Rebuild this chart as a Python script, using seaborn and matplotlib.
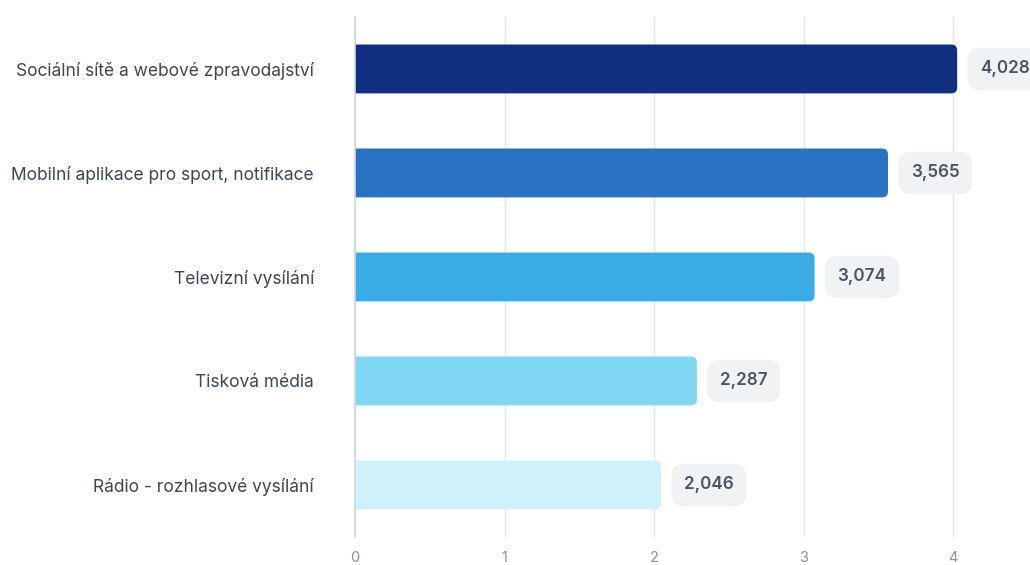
import matplotlib
matplotlib.use("Agg")
import matplotlib.pyplot as plt
from matplotlib.patches import FancyBboxPatch
import seaborn as sns
import pandas as pd

categories = [
    "Sociální sítě a webové zpravodajství",
    "Mobilní aplikace pro sport, notifikace",
    "Televizní vysílání",
    "Tisková média",
    "Rádio - rozhlasové vysílání",
]
values = [4.028, 3.565, 3.074, 2.287, 2.046]
bar_colors = ["#102f80", "#2a72c3", "#3aade6", "#80d7f4", "#cff1fa"]
x_ticks = [0, 1, 2, 3, 4]

sns.set_theme(style="white")
plt.rcParams["font.family"] = ["Inter", "DejaVu Sans"]

df = pd.DataFrame({"kategorie": categories, "hodnota": values})

fig = plt.figure(figsize=(10.30, 5.65), dpi=100)
ax = fig.add_axes([0.3447, 0.0496, 0.6553, 0.9204])

sns.barplot(data=df, x="hodnota", y="kategorie", hue="kategorie",
            palette=bar_colors, saturation=1, legend=False, width=0.47,
            ax=ax, zorder=3)

ax.set_xlim(0, 4.515)
ax.set_ylim(len(categories) - 0.5, -0.5)

# rounded right ends: redraw each bar as a rounded box starting left of the
# axis so the clipped left side stays square
px_x = 0.6553 * 1030 / 4.515
px_y = 0.9204 * 565 / len(categories)
radius_px = 6
for patch in list(ax.patches):
    x0, y0 = patch.get_x(), patch.get_y()
    w, h = patch.get_width(), patch.get_height()
    color = patch.get_facecolor()
    patch.set_visible(False)
    shift = 0.1
    rounded = FancyBboxPatch(
        (x0 - shift, y0), w + shift, h,
        boxstyle=f"round,pad=0,rounding_size={radius_px / px_x}",
        mutation_aspect=(1 / px_y) / (1 / px_x),
        facecolor=color, edgecolor="none", zorder=3,
    )
    ax.add_patch(rounded)

for i, v in enumerate(values):
    label = f"{v:.3f}".replace(".", ",")
    ax.annotate(label, xy=(v, i), xytext=(16.5, 0), textcoords="offset points",
                ha="left", va="center", fontsize=12.3, fontweight="semibold",
                color="#4b5563", annotation_clip=False, zorder=5,
                bbox=dict(boxstyle="round,pad=0.74,rounding_size=0.75",
                          facecolor="#f1f2f3", edgecolor="none"))

ax.set_xticks(x_ticks)
ax.set_xticklabels([str(t) for t in x_ticks])
ax.grid(axis="x", color="#e3e5e8", linewidth=1, zorder=0)
ax.set_axisbelow(True)
for side in ["top", "right", "bottom"]:
    ax.spines[side].set_visible(False)
ax.spines["left"].set_color("#cfd8ea")
ax.spines["left"].set_linewidth(1.2)
ax.spines["left"].set_zorder(4)

ax.tick_params(axis="x", length=0, pad=10, labelsize=10.5, labelcolor="#8a8f96")
ax.tick_params(axis="y", length=0, pad=29.5, labelsize=12.5, labelcolor="#3f4650")
ax.set_xlabel("")
ax.set_ylabel("")

fig.savefig("out.png", dpi=100)
